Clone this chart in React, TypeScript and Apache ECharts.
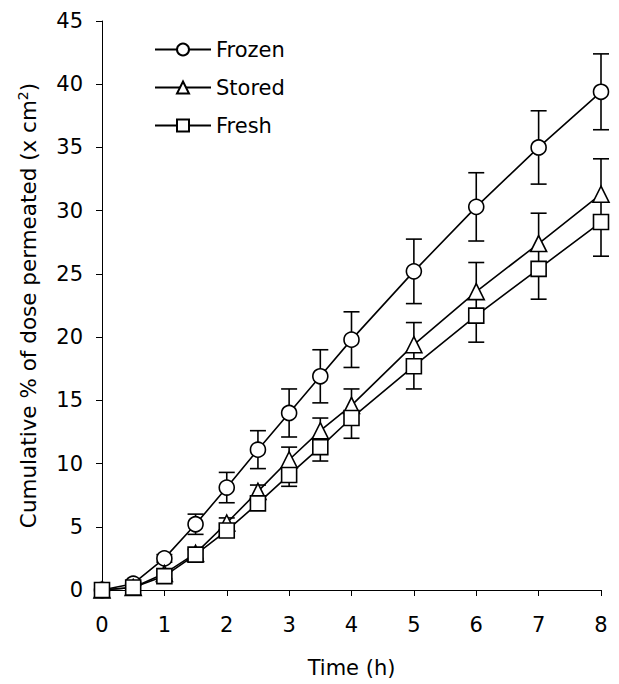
import React, { useEffect, useRef } from "react";
import * as echarts from "echarts";

const time = [0, 0.5, 1, 1.5, 2, 2.5, 3, 3.5, 4, 5, 6, 7, 8];
const frozen = [0, 0.5, 2.5, 5.2, 8.1, 11.1, 14.0, 16.9, 19.8, 25.2, 30.3, 35.0, 39.4];
const stored = [0, 0.2, 1.3, 2.9, 5.3, 7.8, 10.3, 12.6, 14.6, 19.4, 23.6, 27.4, 31.3];
const fresh = [0, 0.2, 1.1, 2.8, 4.7, 6.85, 9.1, 11.3, 13.6, 17.7, 21.7, 25.4, 29.1];
const frozenErr = [0, 0.1, 0.3, 0.8, 1.2, 1.5, 1.9, 2.1, 2.2, 2.55, 2.7, 2.9, 3.0];
const storedErrUp = [0, 0, 0.2, 0.3, 0.4, 0.5, 1.0, 1.0, 1.3, 1.75, 2.3, 2.4, 2.8];
const freshErrDown = [0, 0, 0.2, 0.3, 0.4, 0.5, 0.9, 1.1, 1.6, 1.8, 2.1, 2.4, 2.7];
const yTicks = [0, 5, 10, 15, 20, 25, 30, 35, 40, 45];
const xTicks = [0, 1, 2, 3, 4, 5, 6, 7, 8];

const FONT = "'DejaVu Sans', 'Liberation Sans', Arial, sans-serif";

export default function App() {
  const ref = useRef<HTMLDivElement>(null);
  useEffect(() => {
    const chart = echarts.init(ref.current!, null, { renderer: "svg" });
    const stroke = { stroke: "#000", lineWidth: 1.6 };
    const errRender = (params: any, api: any) => {
      const x = api.value(0);
      const lo = api.value(1);
      const hi = api.value(2);
      const capLo = api.value(3);
      const capHi = api.value(4);
      const pLo = api.coord([x, lo]);
      const pHi = api.coord([x, hi]);
      const hw = 8;
      const children: any[] = [
        { type: "line", shape: { x1: pLo[0], y1: pLo[1], x2: pHi[0], y2: pHi[1] }, style: stroke },
      ];
      if (capLo) children.push({ type: "line", shape: { x1: pLo[0] - hw, y1: pLo[1], x2: pLo[0] + hw, y2: pLo[1] }, style: stroke });
      if (capHi) children.push({ type: "line", shape: { x1: pHi[0] - hw, y1: pHi[1], x2: pHi[0] + hw, y2: pHi[1] }, style: stroke });
      return { type: "group", children };
    };
    const frozenBars: number[][] = [];
    const storedBars: number[][] = [];
    const freshBars: number[][] = [];
    time.forEach((t, i) => {
      if (frozenErr[i] > 0) frozenBars.push([t, frozen[i] - frozenErr[i], frozen[i] + frozenErr[i], 1, 1]);
      if (storedErrUp[i] > 0) storedBars.push([t, fresh[i], stored[i] + storedErrUp[i], 0, 1]);
      if (freshErrDown[i] > 0) freshBars.push([t, fresh[i] - freshErrDown[i], fresh[i], 1, 0]);
    });
    const lineSeries = (name: string, data: number[], symbol: string) => ({
      name,
      type: "line",
      data: time.map((t, i) => [t, data[i]]),
      symbol,
      symbolSize: name === "Stored" ? 16 : 15,
      showAllSymbol: true,
      lineStyle: { color: "#000", width: 1.6 },
      itemStyle: { color: "#fff", borderColor: "#000", borderWidth: 1.6 },
      z: 3,
    });
    const errSeries = (data: number[][]) => ({
      type: "custom",
      renderItem: errRender,
      data,
      encode: { x: 0, y: [1, 2] },
      z: 2,
      silent: true,
    });
    chart.setOption({
      animation: false,
      backgroundColor: "#fff",
      textStyle: { fontFamily: FONT },
      grid: { left: 102, right: 18, top: 21, bottom: 94 },
      legend: {
        data: ["Frozen", "Stored", "Fresh"],
        orient: "vertical",
        left: 149,
        top: 34,
        itemWidth: 56,
        itemHeight: 15,
        itemGap: 17,
        textStyle: { fontSize: 21, color: "#000", fontFamily: FONT },
      },
      xAxis: {
        type: "value",
        min: xTicks[0],
        max: xTicks[xTicks.length - 1],
        interval: 1,
        name: "Time (h)",
        nameLocation: "middle",
        nameGap: 67,
        nameTextStyle: { fontSize: 21, color: "#000", fontFamily: FONT },
        axisLine: { lineStyle: { color: "#000", width: 1 } },
        axisTick: { inside: false, length: 6, lineStyle: { color: "#000" } },
        axisLabel: { fontSize: 21, color: "#000", margin: 24, fontFamily: FONT },
        splitLine: { show: false },
      },
      yAxis: {
        type: "value",
        min: yTicks[0],
        max: yTicks[yTicks.length - 1],
        interval: 5,
        name: "{a|Cumulative % of dose permeated (x cm}{s|2}{a|)}",
        nameLocation: "middle",
        nameGap: 62,
        nameRotate: 90,
        nameTextStyle: {
          color: "#000",
          fontFamily: FONT,
          rich: {
            a: { fontSize: 21.5, color: "#000", fontFamily: FONT, lineHeight: 24 },
            s: { fontSize: 14, color: "#000", fontFamily: FONT, verticalAlign: "top", lineHeight: 24 },
          },
        },
        axisLine: { show: true, lineStyle: { color: "#000", width: 1 } },
        axisTick: { show: true, inside: false, length: 6, lineStyle: { color: "#000" } },
        axisLabel: { fontSize: 21, color: "#000", margin: 19, fontFamily: FONT },
        splitLine: { show: false },
      },
      series: [
        errSeries(frozenBars),
        errSeries(storedBars),
        errSeries(freshBars),
        lineSeries("Frozen", frozen, "circle"),
        lineSeries("Stored", stored, "triangle"),
        lineSeries("Fresh", fresh, "rect"),
      ],
    });
    return () => chart.dispose();
  }, []);
  return (
    <div
      ref={ref}
      style={{ position: "absolute", left: 0, top: 0, width: 619, height: 684, background: "#fff" }}
    />
  );
}
